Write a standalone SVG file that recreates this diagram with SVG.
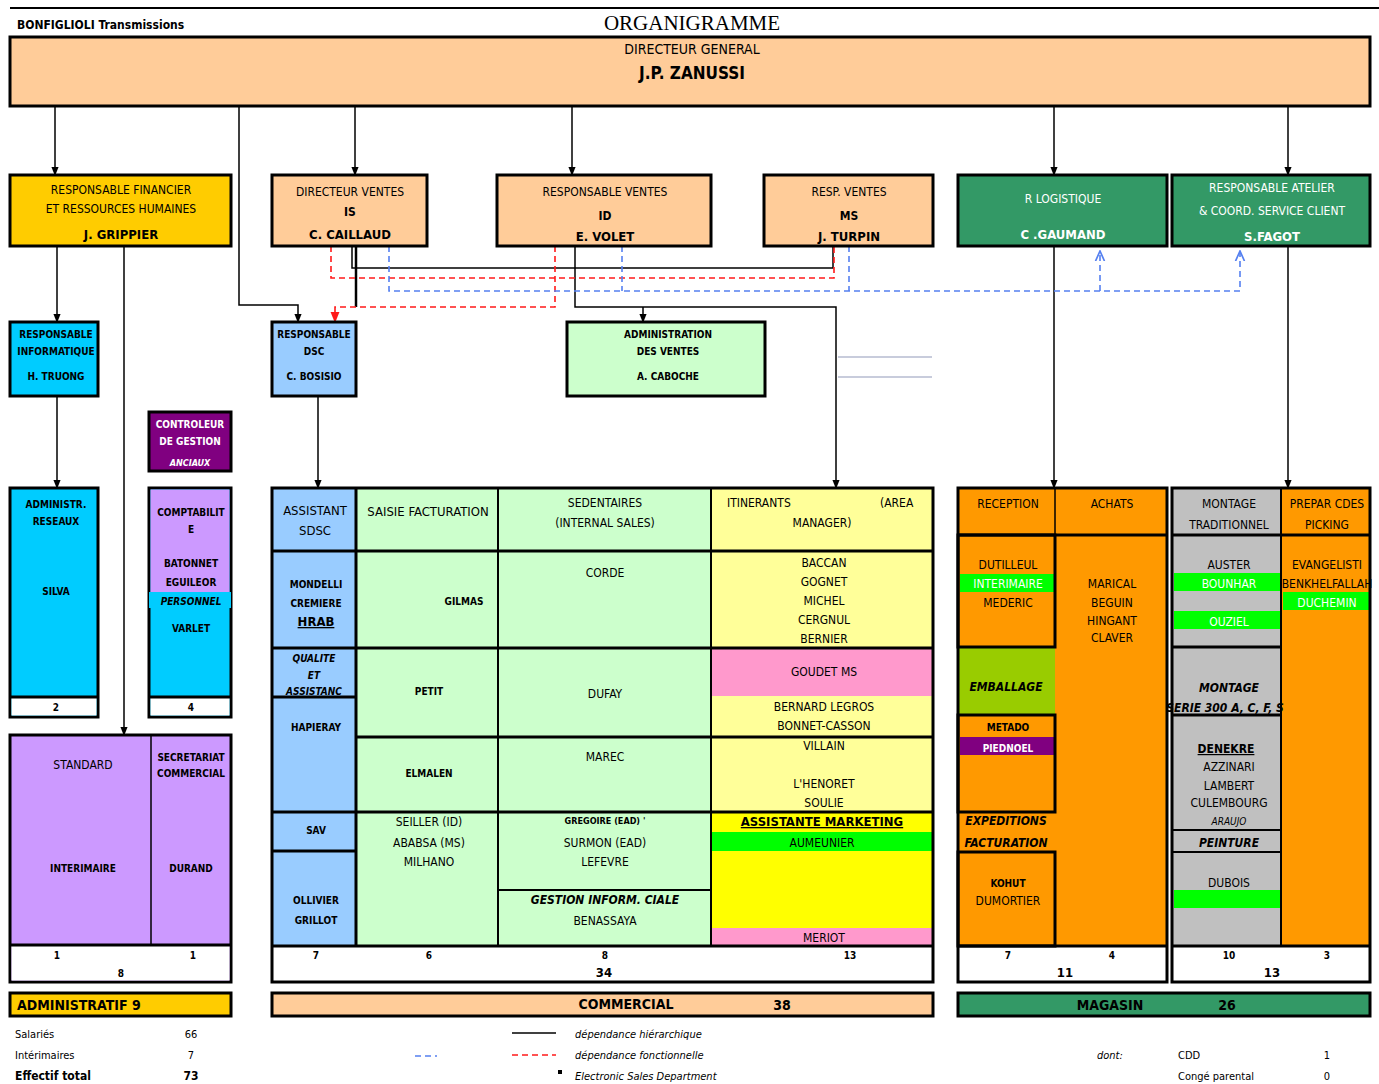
<svg xmlns="http://www.w3.org/2000/svg" width="1379" height="1084" viewBox="0 0 1379 1084">
<style>
.box{stroke:#000;stroke-width:3}
.thin{stroke:#000;stroke-width:1.5;fill:none}
.thk{stroke:#000;stroke-width:3;fill:none}
.t{font-family:"DejaVu Sans Condensed","Liberation Sans",sans-serif;font-size:12px;text-anchor:middle;fill:#000}
.st{font-size:10px;font-weight:bold}
.b{font-weight:bold}
.i{font-style:italic;font-weight:bold}
.w{fill:#fff}
.u{text-decoration:underline}
.l{text-anchor:start}
.conn{stroke:#000;stroke-width:1.5;fill:none}
.red{stroke:#FF1A1A;stroke-width:1.6;stroke-dasharray:6 4;fill:none}
.blue{stroke:#5580F0;stroke-width:1.6;stroke-dasharray:6 4;fill:none}
.peach{fill:#FFCC99}.gold{fill:#FFCC00}.grn{fill:#339966}.cyan{fill:#00CCFF}.lb{fill:#99CCFF}.lg{fill:#CCFFCC}.ly{fill:#FFFF99}.pink{fill:#FF99CC}.yel{fill:#FFFF00}.bg{fill:#00FF00}.org{fill:#FF9900}.gray{fill:#C0C0C0}.lil{fill:#CC99FF}.pur{fill:#800080}.yg{fill:#99CC00}.wh{fill:#fff}
</style>
<defs>
<marker id="ab" viewBox="0 0 10 10" refX="9" refY="5" markerWidth="6" markerHeight="6" orient="auto"><path d="M0,1 L10,5 L0,9 z" fill="#000"/></marker>
<marker id="ar" viewBox="0 0 10 10" refX="9" refY="5" markerWidth="7" markerHeight="7" orient="auto"><path d="M0,1 L10,5 L0,9 z" fill="#FF1A1A"/></marker>
<marker id="abl" viewBox="0 0 10 10" refX="9" refY="5" markerWidth="7" markerHeight="7" orient="auto"><path d="M0,1 L9,5 L0,9" fill="none" stroke="#5580F0" stroke-width="1.5"/></marker>
</defs>
<rect width="1379" height="1084" fill="#fff"/>
<line x1="10" y1="8" x2="1379" y2="8" stroke="#000" stroke-width="2"/>
<text x="17" y="29" class="t l b" style="font-size:12px">BONFIGLIOLI Transmissions</text>
<text x="692" y="30" style="font-family:'Liberation Serif',serif;font-size:21px;text-anchor:middle">ORGANIGRAMME</text>

<g id="connectors">
<path class="conn" d="M55,106 V175" marker-end="url(#ab)"/>
<path class="conn" d="M239,106 V305 H298 V322" marker-end="url(#ab)"/>
<path class="conn" d="M355,106 V175" marker-end="url(#ab)"/>
<path class="conn" d="M572,106 V175" marker-end="url(#ab)"/>
<path class="conn" d="M1054,106 V175" marker-end="url(#ab)"/>
<path class="conn" d="M1288,106 V175" marker-end="url(#ab)"/>
<path class="conn" d="M57,246 V322" marker-end="url(#ab)"/>
<path class="conn" d="M124,246 V735" marker-end="url(#ab)"/>
<path class="conn" d="M352,246 V268 H833 V246"/>
<path class="conn" style="stroke-width:2.5" d="M356,246 V307"/>
<path class="conn" d="M575,246 V307 H836 V488" marker-end="url(#ab)"/>
<path class="conn" d="M643,307 V322" marker-end="url(#ab)"/>
<path class="conn" d="M57,396 V488" marker-end="url(#ab)"/>
<path class="conn" d="M318,396 V488" marker-end="url(#ab)"/>
<path class="conn" d="M1054,246 V488" marker-end="url(#ab)"/>
<path class="conn" d="M1288,246 V488" marker-end="url(#ab)"/>
<path class="red" d="M331,246 V278 H834 V246"/>
<path class="red" d="M555,246 V307 H335 V322" marker-end="url(#ar)"/>
<path class="blue" d="M389,246 V291 H1240 V251" marker-end="url(#abl)"/>
<path class="blue" d="M622,246 V291"/>
<path class="blue" d="M849,246 V291"/>
<path class="blue" d="M1100,291 V251" marker-end="url(#abl)"/>
<path d="M838,357 H932 M838,377 H932" stroke="#C8CCDC" stroke-width="2"/>
</g>

<g id="dg">
<rect x="10" y="37" width="1360" height="69" class="box peach"/>
<text x="692" y="54" class="t" style="font-size:14px">DIRECTEUR GENERAL</text>
<text x="692" y="79" class="t b" style="font-size:17px">J.P. ZANUSSI</text>
</g>

<g id="rfh">
<rect x="10" y="175" width="221" height="71" class="box gold"/>
<text x="121" y="194" class="t">RESPONSABLE FINANCIER</text>
<text x="121" y="213" class="t">ET RESSOURCES HUMAINES</text>
<text x="121" y="239" class="t b" style="font-size:13px">J. GRIPPIER</text>
</g>
<g id="dvis">
<rect x="272" y="175" width="155" height="71" class="box peach"/>
<text x="350" y="196" class="t">DIRECTEUR VENTES</text>
<text x="350" y="216" class="t b">IS</text>
<text x="350" y="239" class="t b" style="font-size:13px">C. CAILLAUD</text>
</g>
<g id="rvid">
<rect x="497" y="175" width="214" height="71" class="box peach"/>
<text x="605" y="196" class="t">RESPONSABLE VENTES</text>
<text x="605" y="220" class="t b">ID</text>
<text x="605" y="241" class="t b" style="font-size:13px">E. VOLET</text>
</g>
<g id="rvms">
<rect x="764" y="175" width="169" height="71" class="box peach"/>
<text x="849" y="196" class="t">RESP. VENTES</text>
<text x="849" y="220" class="t b">MS</text>
<text x="849" y="241" class="t b" style="font-size:13px">J. TURPIN</text>
</g>
<g id="rlog">
<rect x="958" y="175" width="209" height="71" class="box grn"/>
<text x="1063" y="203" class="t w">R LOGISTIQUE</text>
<text x="1063" y="239" class="t b w" style="font-size:13px">C .GAUMAND</text>
</g>
<g id="ratelier">
<rect x="1172" y="175" width="198" height="71" class="box grn"/>
<text x="1272" y="192" class="t w">RESPONSABLE ATELIER</text>
<text x="1272" y="215" class="t w">&amp; COORD. SERVICE CLIENT</text>
<text x="1272" y="241" class="t b w" style="font-size:13px">S.FAGOT</text>
</g>

<g id="rinfo">
<rect x="10" y="322" width="88" height="74" class="box cyan"/>
<text x="56" y="338" class="t st">RESPONSABLE</text>
<text x="56" y="355" class="t st">INFORMATIQUE</text>
<text x="56" y="380" class="t st">H. TRUONG</text>
</g>
<g id="rdsc">
<rect x="272" y="322" width="84" height="74" class="box lb"/>
<text x="314" y="338" class="t st">RESPONSABLE</text>
<text x="314" y="355" class="t st">DSC</text>
<text x="314" y="380" class="t st">C. BOSISIO</text>
</g>
<g id="adv">
<rect x="567" y="322" width="198" height="74" class="box lg"/>
<text x="668" y="338" class="t st">ADMINISTRATION</text>
<text x="668" y="355" class="t st">DES VENTES</text>
<text x="668" y="380" class="t st">A. CABOCHE</text>
</g>
<g id="cdg">
<rect x="149" y="412" width="82" height="59" class="box pur"/>
<text x="190" y="428" class="t st w">CONTROLEUR</text>
<text x="190" y="445" class="t st w">DE GESTION</text>
<text x="190" y="466" class="t i w" style="font-size:9px">ANCIAUX</text>
</g>

<g id="reseaux">
<rect x="10" y="488" width="88" height="229" class="box cyan"/>
<rect x="11.5" y="697" width="85" height="18.5" class="wh"/>
<line x1="10" y1="697" x2="98" y2="697" class="thk"/>
<text x="56" y="508" class="t st">ADMINISTR.</text>
<text x="56" y="525" class="t st">RESEAUX</text>
<text x="56" y="595" class="t st">SILVA</text>
<text x="56" y="711" class="t st">2</text>
</g>
<g id="compta">
<rect x="149" y="488" width="82" height="229" class="box cyan"/>
<rect x="150.5" y="489.5" width="79" height="103" class="lil"/>
<rect x="149" y="592" width="82" height="16" class="cyan"/>
<rect x="150.5" y="697" width="79" height="18.5" class="wh"/>
<line x1="149" y1="697" x2="231" y2="697" class="thk"/>
<text x="191" y="516" class="t st">COMPTABILIT</text>
<text x="191" y="533" class="t st">E</text>
<text x="191" y="567" class="t st">BATONNET</text>
<text x="191" y="586" class="t st">EGUILEOR</text>
<text x="191" y="605" class="t i" style="font-size:10px">PERSONNEL</text>
<text x="191" y="632" class="t st">VARLET</text>
<text x="191" y="711" class="t st">4</text>
</g>
<g id="standard">
<rect x="10" y="735" width="221" height="247" class="box lil"/>
<rect x="11.5" y="945" width="218" height="35.5" class="wh"/>
<line x1="10" y1="945" x2="231" y2="945" class="thk"/>
<line x1="151" y1="735" x2="151" y2="945" class="thin"/>
<text x="83" y="769" class="t">STANDARD</text>
<text x="83" y="872" class="t st">INTERIMAIRE</text>
<text x="191" y="761" class="t st">SECRETARIAT</text>
<text x="191" y="777" class="t st">COMMERCIAL</text>
<text x="191" y="872" class="t st">DURAND</text>
<text x="57" y="959" class="t st">1</text>
<text x="193" y="959" class="t st">1</text>
<text x="121" y="977" class="t st">8</text>
</g>
<g id="admintot">
<rect x="10" y="993" width="221" height="23" class="box gold"/>
<text x="17" y="1010" class="t l b" style="font-size:14px">ADMINISTRATIF 9</text>
</g>

<g id="commercial">
<rect x="272" y="488" width="661" height="494" class="wh"/>
<rect x="272" y="488" width="84" height="458" class="lb"/>
<rect x="356" y="488" width="355" height="458" class="lg"/>
<rect x="711" y="488" width="222" height="160" class="ly"/>
<rect x="711" y="648" width="222" height="48" class="pink"/>
<rect x="711" y="696" width="222" height="116" class="ly"/>
<rect x="711" y="812" width="222" height="20" class="yel"/>
<rect x="711" y="832" width="222" height="19" class="bg"/>
<rect x="711" y="851" width="222" height="77" class="yel"/>
<rect x="711" y="928" width="222" height="18" class="pink"/>
<path class="thk" d="M272,551 H933 M272,648 H933 M356,737 H933 M272,812 H933 M272,946 H933 M272,697 H356 M272,851 H356"/>
<path class="thk" d="M356,488 V946"/>
<path class="thin" style="stroke-width:2" d="M498,488 V946 M711,488 V946 M498,890 H711"/>
<rect x="272" y="488" width="661" height="494" class="box" fill="none"/>
<text x="315" y="515" class="t" style="font-size:13px">ASSISTANT</text>
<text x="315" y="535" class="t" style="font-size:13px">SDSC</text>
<text x="428" y="516" class="t" style="font-size:13px">SAISIE FACTURATION</text>
<text x="605" y="507" class="t">SEDENTAIRES</text>
<text x="605" y="527" class="t">(INTERNAL SALES)</text>
<text x="727" y="507" class="t l">ITINERANTS</text>
<text x="880" y="507" class="t l">(AREA</text>
<text x="822" y="527" class="t">MANAGER)</text>
<text x="316" y="588" class="t st">MONDELLI</text>
<text x="316" y="607" class="t st">CREMIERE</text>
<text x="316" y="626" class="t b u" style="font-size:13px">HRAB</text>
<text x="464" y="605" class="t st">GILMAS</text>
<text x="605" y="577" class="t">CORDE</text>
<text x="824" y="567" class="t">BACCAN</text>
<text x="824" y="586" class="t">GOGNET</text>
<text x="824" y="605" class="t">MICHEL</text>
<text x="824" y="624" class="t">CERGNUL</text>
<text x="824" y="643" class="t">BERNIER</text>
<text x="314" y="662" class="t i" style="font-size:10px">QUALITE</text>
<text x="314" y="679" class="t i" style="font-size:10px">ET</text>
<text x="314" y="695" class="t i u" style="font-size:10px">ASSISTANC</text>
<text x="316" y="731" class="t st">HAPIERAY</text>
<text x="429" y="695" class="t st">PETIT</text>
<text x="605" y="698" class="t">DUFAY</text>
<text x="824" y="676" class="t">GOUDET MS</text>
<text x="824" y="711" class="t">BERNARD LEGROS</text>
<text x="824" y="730" class="t">BONNET-CASSON</text>
<text x="429" y="777" class="t st">ELMALEN</text>
<text x="605" y="761" class="t">MAREC</text>
<text x="824" y="750" class="t">VILLAIN</text>
<text x="824" y="788" class="t">L'HENORET</text>
<text x="824" y="807" class="t">SOULIE</text>
<text x="316" y="834" class="t st">SAV</text>
<text x="316" y="904" class="t st">OLLIVIER</text>
<text x="316" y="924" class="t st">GRILLOT</text>
<text x="429" y="826" class="t">SEILLER (ID)</text>
<text x="429" y="847" class="t">ABABSA (MS)</text>
<text x="429" y="866" class="t">MILHANO</text>
<text x="605" y="824" class="t st" style="font-size:9px">GREGOIRE (EAD) '</text>
<text x="605" y="847" class="t">SURMON (EAD)</text>
<text x="605" y="866" class="t">LEFEVRE</text>
<text x="605" y="904" class="t i">GESTION INFORM. CIALE</text>
<text x="605" y="925" class="t">BENASSAYA</text>
<text x="822" y="826" class="t b u" style="font-size:13px">ASSISTANTE MARKETING</text>
<text x="822" y="847" class="t">AUMEUNIER</text>
<text x="824" y="942" class="t">MERIOT</text>
<text x="316" y="959" class="t st">7</text>
<text x="429" y="959" class="t st">6</text>
<text x="605" y="959" class="t st">8</text>
<text x="850" y="959" class="t st">13</text>
<text x="604" y="977" class="t b" style="font-size:13px">34</text>
</g>
<g id="commtot">
<rect x="272" y="993" width="661" height="23" class="box peach"/>
<text x="626" y="1009" class="t b" style="font-size:14px">COMMERCIAL</text>
<text x="782" y="1010" class="t b" style="font-size:14px">38</text>
</g>

<g id="magasin">
<rect x="958" y="488" width="209" height="494" class="org"/>
<rect x="958" y="648" width="97" height="67" class="yg"/>
<rect x="960" y="574" width="94" height="18" class="bg"/>
<rect x="960" y="737" width="94" height="18" class="pur"/>
<rect x="958" y="946" width="209" height="36" class="wh"/>
<path class="thk" d="M958,535 H1167 M958,946 H1167"/>
<path class="thin" d="M1055,488 V535"/>
<rect x="958" y="535" width="97" height="112" class="thk"/>
<rect x="958" y="715" width="97" height="97" class="thk"/>
<rect x="958" y="852" width="97" height="94" class="thk"/>
<rect x="958" y="488" width="209" height="494" class="box" fill="none"/>
<rect x="1172" y="488" width="109" height="458" class="gray"/>
<rect x="1281" y="488" width="89" height="458" class="org"/>
<rect x="1174" y="573" width="106" height="18" class="bg"/>
<rect x="1174" y="611" width="106" height="18" class="bg"/>
<rect x="1174" y="890" width="106" height="18" class="bg"/>
<rect x="1283" y="592" width="86" height="18" class="bg"/>
<rect x="1172" y="946" width="198" height="36" class="wh"/>
<path class="thk" d="M1172,535 H1370 M1172,647 H1281 M1172,715 H1281 M1172,946 H1370"/>
<path class="thin" style="stroke-width:2" d="M1172,830 H1281 M1172,852 H1281 M1281,488 V946"/>
<rect x="1172" y="488" width="198" height="494" class="box" fill="none"/>
<text x="1008" y="508" class="t">RECEPTION</text>
<text x="1112" y="508" class="t">ACHATS</text>
<text x="1008" y="569" class="t">DUTILLEUL</text>
<text x="1008" y="588" class="t w">INTERIMAIRE</text>
<text x="1008" y="607" class="t">MEDERIC</text>
<text x="1112" y="588" class="t">MARICAL</text>
<text x="1112" y="607" class="t">BEGUIN</text>
<text x="1112" y="625" class="t">HINGANT</text>
<text x="1112" y="642" class="t">CLAVER</text>
<text x="1006" y="691" class="t i">EMBALLAGE</text>
<text x="1008" y="731" class="t st">METADO</text>
<text x="1008" y="752" class="t st w">PIEDNOEL</text>
<text x="1006" y="825" class="t i">EXPEDITIONS</text>
<text x="1006" y="847" class="t i">FACTURATION</text>
<text x="1008" y="887" class="t st">KOHUT</text>
<text x="1008" y="905" class="t">DUMORTIER</text>
<text x="1229" y="508" class="t">MONTAGE</text>
<text x="1229" y="529" class="t">TRADITIONNEL</text>
<text x="1327" y="508" class="t">PREPAR CDES</text>
<text x="1327" y="529" class="t">PICKING</text>
<text x="1229" y="569" class="t">AUSTER</text>
<text x="1229" y="588" class="t w">BOUNHAR</text>
<text x="1229" y="626" class="t w">OUZIEL</text>
<text x="1327" y="569" class="t">EVANGELISTI</text>
<text x="1327" y="588" class="t">BENKHELFALLAH</text>
<text x="1327" y="607" class="t w">DUCHEMIN</text>
<text x="1229" y="692" class="t i">MONTAGE</text>
<text x="1225" y="712" class="t i">SERIE 300 A, C, F, S</text>
<text x="1226" y="753" class="t b u">DENEKRE</text>
<text x="1229" y="771" class="t">AZZINARI</text>
<text x="1229" y="790" class="t">LAMBERT</text>
<text x="1229" y="807" class="t">CULEMBOURG</text>
<text x="1229" y="825" class="t" style="font-style:italic;font-size:10px">ARAUJO</text>
<text x="1229" y="847" class="t i">PEINTURE</text>
<text x="1229" y="887" class="t">DUBOIS</text>
<text x="1008" y="959" class="t st">7</text>
<text x="1112" y="959" class="t st">4</text>
<text x="1065" y="977" class="t b" style="font-size:13px">11</text>
<text x="1229" y="959" class="t st">10</text>
<text x="1327" y="959" class="t st">3</text>
<text x="1272" y="977" class="t b" style="font-size:13px">13</text>
</g>
<g id="magtot">
<rect x="958" y="993" width="412" height="23" class="box grn"/>
<text x="1110" y="1010" class="t b" style="font-size:14px">MAGASIN</text>
<text x="1227" y="1010" class="t b" style="font-size:14px">26</text>
</g>

<g id="legend">
<text x="15" y="1038" class="t l" style="font-size:11px">Salariés</text>
<text x="191" y="1038" class="t" style="font-size:11px">66</text>
<text x="15" y="1059" class="t l" style="font-size:11px">Intérimaires</text>
<text x="191" y="1059" class="t" style="font-size:11px">7</text>
<text x="15" y="1080" class="t l b" style="font-size:12px">Effectif total</text>
<text x="191" y="1080" class="t b" style="font-size:12px">73</text>
<line x1="415" y1="1056" x2="437" y2="1056" class="blue"/>
<line x1="512" y1="1033" x2="556" y2="1033" stroke="#000" stroke-width="1.5"/>
<line x1="512" y1="1055" x2="556" y2="1055" class="red"/>
<text x="575" y="1038" class="t l" style="font-size:11px;font-style:italic">dépendance hiérarchique</text>
<text x="575" y="1059" class="t l" style="font-size:11px;font-style:italic">dépendance fonctionnelle</text>
<rect x="558" y="1070" width="4" height="4" fill="#000"/>
<text x="575" y="1080" class="t l" style="font-size:11px;font-style:italic">Electronic Sales Department</text>
<text x="1097" y="1059" class="t l" style="font-size:11px;font-style:italic">dont:</text>
<text x="1178" y="1059" class="t l" style="font-size:11px">CDD</text>
<text x="1327" y="1059" class="t" style="font-size:11px">1</text>
<text x="1178" y="1080" class="t l" style="font-size:11px">Congé parental</text>
<text x="1327" y="1080" class="t" style="font-size:11px">0</text>
</g>
</svg>
